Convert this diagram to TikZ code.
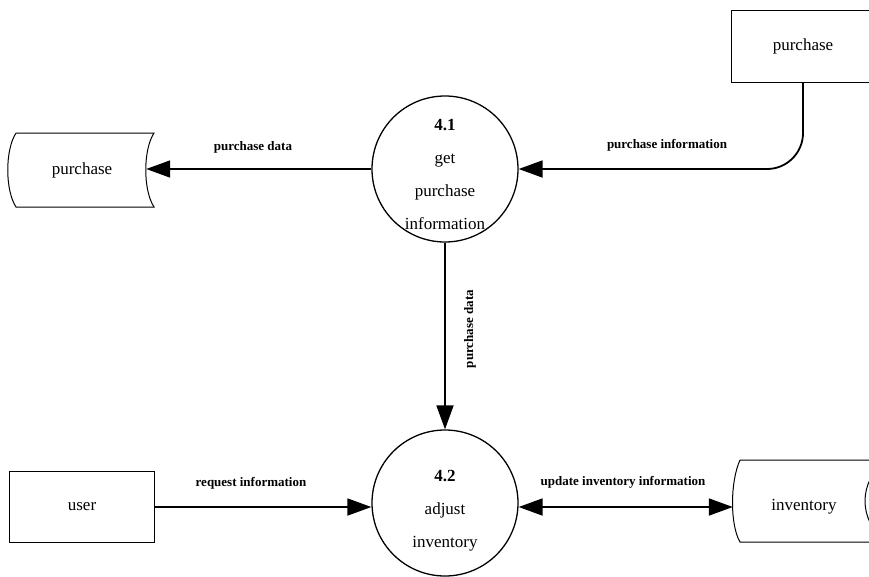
\documentclass[tikz,border=0pt]{standalone}
\usepackage{fontspec}
\setmainfont{Liberation Serif}
\usetikzlibrary{arrows.meta,calc}
\begin{document}
\begin{tikzpicture}[x=1pt,y=-1pt,
  flow/.style={line width=1.8pt,-{Triangle[length=24pt,width=17pt]}},
  bothflow/.style={line width=1.8pt,{Triangle[length=24pt,width=17pt]}-{Triangle[length=24pt,width=17pt]}},
  lbl/.style={font=\fontsize{13}{15}\selectfont\bfseries,inner sep=0pt},
  proc/.style={circle,draw,line width=1.3pt,minimum size=146pt,inner sep=0pt},
  proctxt/.style={inner sep=0pt,align=center,font=\fontsize{17}{33}\selectfont},
  entity/.style={rectangle,draw,line width=1pt,inner sep=0pt,
    font=\fontsize{17}{20}\selectfont},
  storetxt/.style={inner sep=0pt,minimum height=74pt,font=\fontsize{17}{20}\selectfont},
  outline/.style={line width=1pt}]
\useasboundingbox (0,0) rectangle (869,576);
\clip (0,0) rectangle (869,576);

% processes
\node[proc] (c1) at (445,169) {};
\node[proctxt] (c1t) at (445,174) {\textbf{4.1}\\get\\purchase\\information};
\node[proc] (c2) at (445,503) {};
\node[proctxt] (c2t) at (445,511) {\textbf{4.2}\\adjust\\inventory};

% external entities
\node[entity,minimum width=144pt,minimum height=72pt] (src) at (803,46) {purchase};
\node[entity,minimum width=145pt,minimum height=71pt] (user) at (82,507) {user};

% data stores
\node[storetxt,minimum width=128pt] (ps) at (82,170) {purchase};
\draw[outline] (16,133) -- (154,133)
  .. controls (143,150) and (143,190) .. (154,207) -- (16,207)
  .. controls (5,190) and (5,150) .. (16,133);

\node[storetxt,minimum width=142pt,minimum height=82pt] (inv) at (804,507) {inventory};
\draw[outline] (740,460) -- (886,460)
  .. controls (858,482) and (858,520) .. (886,542) -- (740,542)
  .. controls (730,525) and (730,482) .. (740,460);

% data flows
\draw[flow] (c1.west) -- (c1.west -| ps.east);
\draw[flow,rounded corners=36pt] (src.south) |- (c1.east);
\draw[flow] (c1.south) -- (c2.north);
\draw[flow] (user.east) -- (user.east -| c2.west);
\draw[bothflow] (inv.west -| c2.east) -- (inv.west);

% flow labels
\node[lbl] (l1) at (253,147) {purchase data};
\node[lbl] (l2) at (667,145) {purchase information};
\node[lbl,rotate=90] (l3) at (470,329) {purchase data};
\node[lbl] (l4) at (251,483) {request information};
\node[lbl] (l5) at (623,482) {update inventory information};
\end{tikzpicture}
\end{document}
